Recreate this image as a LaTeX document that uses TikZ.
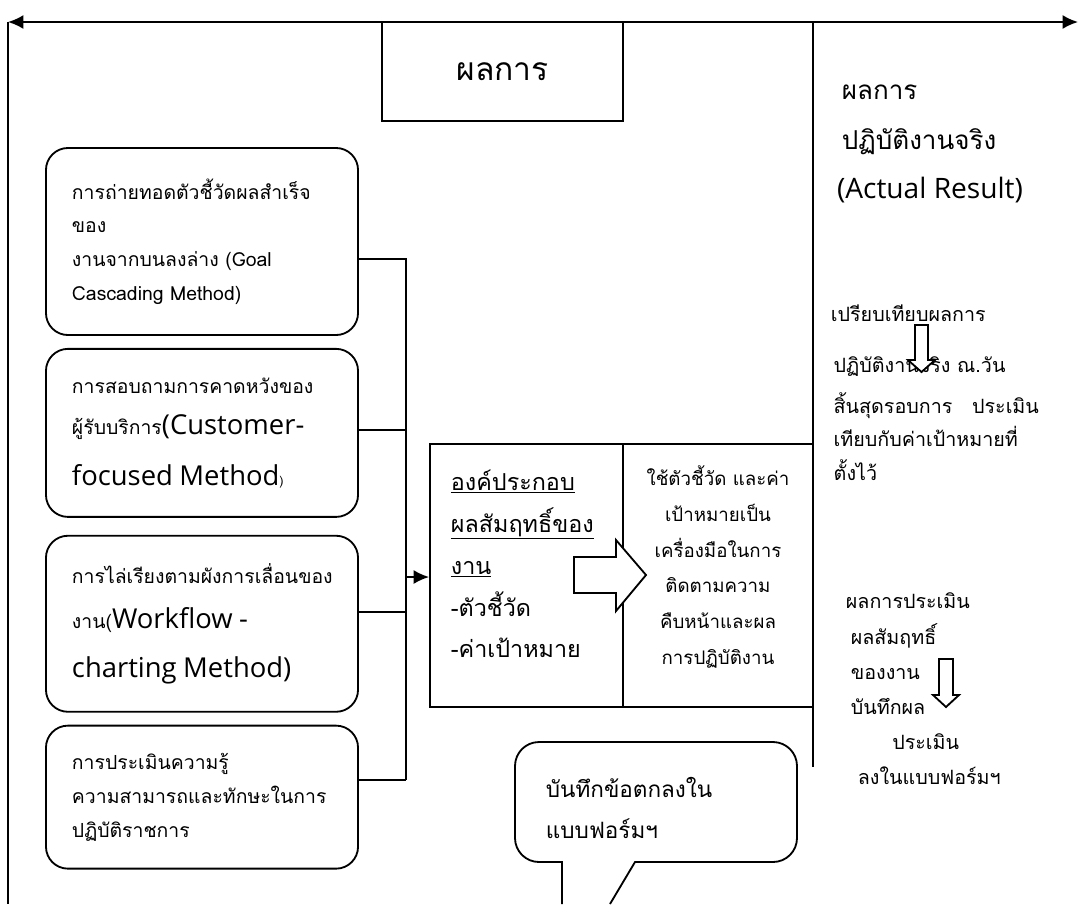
\documentclass[tikz,border=0pt]{standalone}
\usepackage{fontspec}
\setmainfont[Script=Thai]{Loma}
\newfontfamily\latinfont{Open Sans}
\newcommand\bigeng[1]{{\latinfont\fontsize{19.5}{24}\selectfont #1}}
\usetikzlibrary{positioning, arrows.meta}
\tikzset{
  every picture/.style={line width=1.3pt},
  bigtip/.tip={Latex[length=11pt, width=10pt]},
  methodbox/.style={
    draw, rounded corners=0.55cm, minimum width=7.8cm,
    text width=6.5cm, inner xsep=0.65cm, align=left,
    font=\fontsize{13.8}{24}\selectfont
  },
  cell/.style={draw, minimum height=6.575cm},
  plain/.style={align=left, inner sep=0pt}
}

\begin{document}
\begin{tikzpicture}[x=0.025cm, y=-0.025cm]
  \useasboundingbox (0,0) rectangle (1078,904);

  \coordinate (tl) at (8,22);
  \coordinate (tr) at (1078,22);
  \coordinate (bl) at (8,904);
  \coordinate (rt) at (813,22);
  \coordinate (rb) at (813,767);
  \draw[bigtip-bigtip] (tl) -- (tr);
  \draw (tl) -- (bl);
  \draw (rt) -- (rb);

  \node[draw, minimum width=6.025cm, minimum height=2.475cm,
        font=\fontsize{22.6}{26}\selectfont] (result) at (502.5,71.5) {ผลการ};

  \node[methodbox, minimum height=4.675cm] (goal) at (202,241.5)
    {การถ่ายทอดตัวชี้วัดผลสำเร็จ\\ของ\\งานจากบนลงล่าง (Goal\\Cascading Method)};
  \node[methodbox, minimum height=4.2cm, below=0.3cm of goal] (customer)
    {การสอบถามการคาดหวังของ\\[5pt]ผู้รับบริการ\bigeng{(Customer-}\\[12pt]\bigeng{focused Method}{\small)}};
  \node[methodbox, minimum height=4.4cm, below=0.425cm of customer] (workflow)
    {การไล่เรียงตามผังการเลื่อนของ\\[8pt]งาน(\bigeng{Workflow -}\\[11pt]\bigeng{charting Method)}};
  \node[methodbox, minimum height=3.575cm, below=0.3cm of workflow] (competency)
    {การประเมินความรู้\\ความสามารถและทักษะในการ\\ปฏิบัติราชการ};

  \node[cell, minimum width=4.825cm] (kpi) at (526.5,575.5) {};
  \node[cell, minimum width=4.75cm] (track) at (718,575.5) {};
  \node[plain, anchor=west, font=\fontsize{16.6}{29.8}\selectfont] (kpitext) at (450,564)
    {\underline{องค์ประกอบ}\\\underline{ผลสัมฤทธิ์ของ}\\\underline{งาน}\\-ตัวชี้วัด\\-ค่าเป้าหมาย};
  \node[plain, align=center, font=\fontsize{13.3}{25.5}\selectfont] (tracktext) at (718,567)
    {ใช้ตัวชี้วัด และค่า\\เป้าหมายเป็น\\เครื่องมือในการ\\ติดตามความ\\คืบหน้าและผล\\การปฏิบัติงาน};
  \draw[fill=white] (574,557) -- (616,557) -- (616,540) -- (646,575)
    -- (616,611) -- (616,593) -- (574,593) -- cycle;

  \coordinate (bus1) at (406,259);
  \coordinate (bus2) at (406,430);
  \coordinate (bus3) at (406,612);
  \coordinate (bus4) at (406,780);
  \coordinate (busin) at (406,577);
  \draw (goal.east |- bus1) -- (bus1) -- (bus4);
  \draw (customer.east |- bus2) -- (bus2);
  \draw (workflow.east |- bus3) -- (bus3);
  \draw (competency.east |- bus4) -- (bus4);
  \draw[-bigtip] (busin) -- (busin -| kpi.west);

  \node[plain, anchor=west, font=\fontsize{18.5}{35}\selectfont] (actual) at (841,144)
    {ผลการ\\ปฏิบัติงานจริง\\\hspace*{-3.5pt}{\latinfont\fontsize{20}{35}\selectfont(Actual Result)}};
  \node[plain, anchor=north west, font=\fontsize{14}{24}\selectfont] (compare) at (830,304)
    {เปรียบเทียบผลการ\\[12pt]\hspace*{2pt}ปฏิบัติงานจริง ณ.วัน\\[5pt]\hspace*{2pt}สิ้นสุดรอบการ\quad ประเมิน\\\hspace*{2pt}เทียบกับค่าเป้าหมายที่\\\hspace*{2pt}ตั้งไว้};
  \node[plain, anchor=west, font=\fontsize{14}{25}\selectfont] (record) at (845,689)
    {ผลการประเมิน\\\hspace*{3.5pt}ผลสัมฤทธิ์\\\hspace*{3.5pt}ของงาน\\\hspace*{3.5pt}บันทึกผล\\\hspace*{33pt}ประเมิน\\\hspace*{8.5pt}ลงในแบบฟอร์มฯ};
  \draw[fill=white] (915,325) -- (928,325) -- (928,360) -- (935,360)
    -- (921.5,372) -- (908,360) -- (915,360) -- cycle;
  \draw[fill=white] (939,659) -- (953,659) -- (953,695) -- (959,695)
    -- (946,707) -- (933,695) -- (939,695) -- cycle;

  \draw (562,904) -- (562,862) [rounded corners=0.6cm] -- (515,862) -- (515,742)
    -- (797,742) -- (797,862) [sharp corners] -- (635,862) -- (610,904);
  \node[plain, anchor=west, font=\fontsize{16}{29}\selectfont] (note) at (545,808)
    {บันทึกข้อตกลงใน\\แบบฟอร์มฯ};
\end{tikzpicture}
\end{document}
